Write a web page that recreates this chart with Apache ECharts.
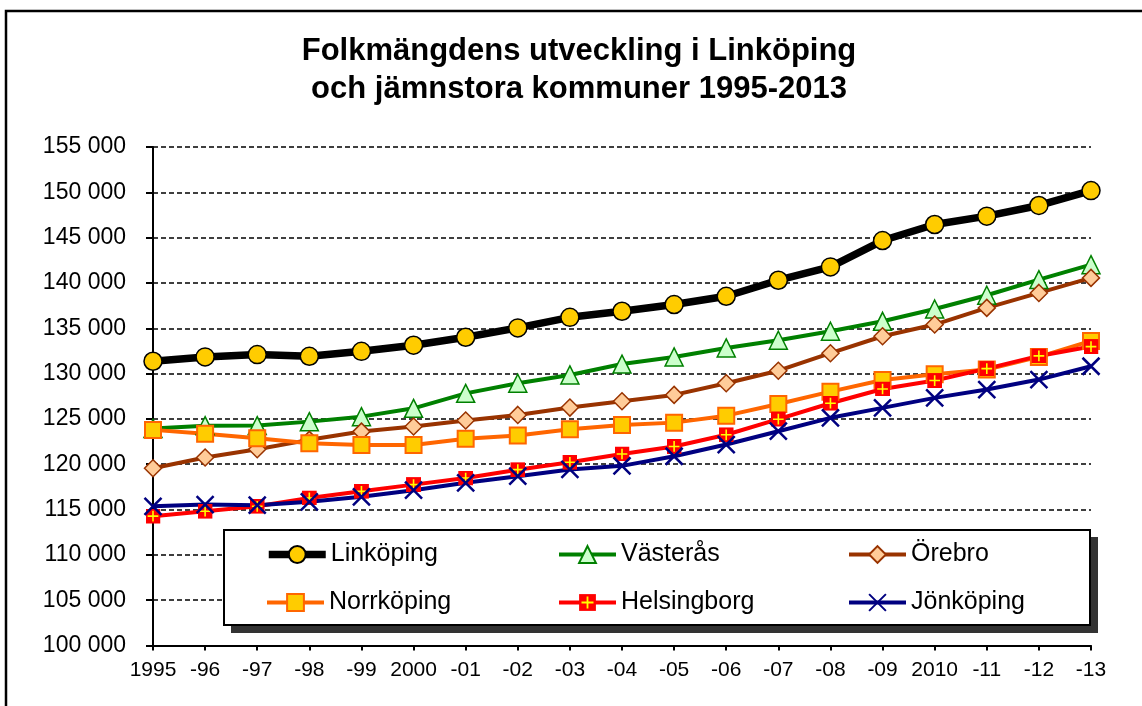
<!DOCTYPE html>
<html>
<head>
<meta charset="utf-8">
<title>Folkmängdens utveckling</title>
<script src="https://cdn.jsdelivr.net/npm/echarts@6/dist/echarts.min.js"></script>
<style>
  html, body { margin: 0; padding: 0; background: #fff; }
  #chart { width: 1142px; height: 706px; }
</style>
</head>
<body>
<div id="chart"></div>
<script>
// årtal på x-axeln
const years = ['1995', '-96', '-97', '-98', '-99', '2000', '-01', '-02', '-03', '-04',
  '-05', '-06', '-07', '-08', '-09', '2010', '-11', '-12', '-13']

// folkmängd per kommun
const linkoping = [131360, 131840, 132100, 131910, 132460, 133130, 134010, 135040, 136210, 136880,
  137620, 138530, 140300, 141770, 144680, 146450, 147370, 148550, 150190]
const vasteras = [123950, 124250, 124260, 124700, 125250, 126170, 127820, 128930, 129850, 131050,
  131840, 132830, 133680, 134670, 135770, 137130, 138640, 140370, 142020]
const orebro = [119560, 120740, 121660, 122690, 123600, 124160, 124820, 125440, 126250, 126950,
  127650, 128930, 130320, 132250, 134120, 135410, 137250, 138900, 140560]
const norrkoping = [123790, 123350, 122870, 122320, 122130, 122130, 122800, 123160, 123860, 124320,
  124590, 125360, 126650, 128010, 129300, 129930, 130450, 131840, 133600]
const helsingborg = [114270, 114810, 115360, 116280, 117010, 117750, 118480, 119400, 120220, 121130,
  121960, 123250, 124970, 126730, 128300, 129230, 130550, 131950, 132980]
const jonkoping = [115360, 115550, 115480, 115850, 116400, 117140, 117950, 118680, 119420, 119820,
  120880, 122170, 123640, 125120, 126220, 127320, 128240, 129340, 130810]

const FONT = '"Liberation Sans", Arial, sans-serif'

// röd ruta med gult kors
const plusSvg = '<svg xmlns="http://www.w3.org/2000/svg" width="28" height="28">' +
  '<rect width="28" height="28" fill="#FF0000"/>' +
  '<path d="M14 4V24M4 14H24" stroke="#FFFF00" stroke-width="3"/></svg>'
const plusSymbol = 'image://data:image/svg+xml;charset=utf-8,' + encodeURIComponent(plusSvg)

function lineSeries(name, data, color, width, symbol, size, fill, border, borderWidth) {
  return {
    name: name,
    type: 'line',
    data: data,
    symbol: symbol,
    symbolSize: size,
    showAllSymbol: true,
    lineStyle: { color: color, width: width },
    itemStyle: { color: fill, borderColor: border, borderWidth: borderWidth },
    emphasis: { disabled: true },
    animation: false
  }
}

// en legend per post så att kolumnerna hamnar rätt
const legendPos = [
  ['Linköping', 265, 542], ['Västerås', 557, 542], ['Örebro', 847, 542],
  ['Norrköping', 265, 590], ['Helsingborg', 557, 590], ['Jönköping', 847, 590]
]

const chart = echarts.init(document.getElementById('chart'))

chart.setOption({
  backgroundColor: '#fff',
  animation: false,
  title: {
    text: 'Folkmängdens utveckling i Linköping\noch jämnstora kommuner 1995-2013',
    left: 574,
    textAlign: 'center',
    top: 27,
    textStyle: { fontFamily: FONT, fontSize: 31, fontWeight: 'bold', color: '#000', lineHeight: 38 }
  },
  grid: { left: 153, right: 51, top: 147, bottom: 60.5 },
  xAxis: {
    type: 'category',
    data: years,
    boundaryGap: false,
    axisLine: { lineStyle: { color: '#000', width: 2 } },
    axisTick: { length: 5, lineStyle: { color: '#000', width: 2 } },
    axisLabel: { color: '#000', fontFamily: FONT, fontSize: 21, margin: 14, interval: 0 },
    splitLine: { show: false }
  },
  yAxis: {
    type: 'value',
    min: 100000,
    max: 155000,
    interval: 5000,
    axisLine: { show: true, lineStyle: { color: '#000', width: 2 } },
    axisTick: { show: true, length: 7, lineStyle: { color: '#000', width: 2 } },
    axisLabel: {
      color: '#000', fontFamily: FONT, fontSize: 23, margin: 27,
      formatter: v => String(v).replace(/\B(?=(\d{3})+(?!\d))/g, ' ')
    },
    splitLine: { lineStyle: { color: '#000', width: 1.5, type: [5, 3] } }
  },
  legend: legendPos.map(p => ({
    data: [p[0]],
    left: p[1],
    top: p[2],
    padding: 0,
    itemWidth: 57,
    itemHeight: 21,
    selectedMode: false,
    z: 6,
    lineStyle: { width: 'inherit' },
    textStyle: { fontFamily: FONT, fontSize: 25, color: '#000' }
  })),
  graphic: [
    // ram runt hela diagrammet
    { type: 'rect', z: 0, shape: { x: 6, y: 11, width: 1200, height: 800 },
      style: { fill: 'none', stroke: '#000', lineWidth: 2.5 } },
    // legendrutans skugga och ruta
    { type: 'rect', z: 5, shape: { x: 231, y: 537, width: 867, height: 96 },
      style: { fill: '#333' } },
    { type: 'rect', z: 5, shape: { x: 224, y: 530, width: 866, height: 95 },
      style: { fill: '#fff', stroke: '#000', lineWidth: 2 } }
  ],
  series: [
    lineSeries('Linköping', linkoping, '#000', 7.5, 'circle', 18, '#FFCC00', '#000', 1.5),
    lineSeries('Västerås', vasteras, '#008000', 4, 'triangle', 18, '#CCFFCC', '#008000', 1.5),
    lineSeries('Örebro', orebro, '#993300', 4, 'diamond', 17, '#FFCC99', '#993300', 1.5),
    lineSeries('Norrköping', norrkoping, '#FF6600', 4, 'rect', 16, '#FFCC00', '#FF6600', 2),
    lineSeries('Helsingborg', helsingborg, '#FF0000', 4, plusSymbol, 15, '#FF0000', '#FF0000', 0),
    lineSeries('Jönköping', jonkoping, '#000080', 4, 'path://M0,0L10,10M10,0L0,10', 17, 'none', '#000080', 2.5)
  ]
})
</script>
</body>
</html>
